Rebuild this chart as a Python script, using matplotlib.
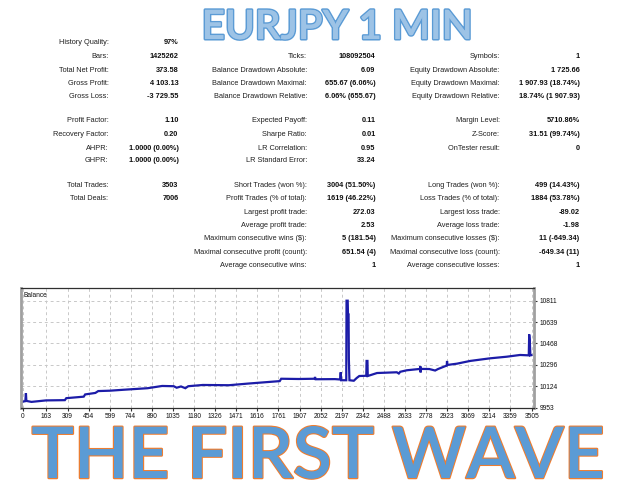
import matplotlib
matplotlib.use("Agg")
from matplotlib import pyplot as plt
from matplotlib import font_manager as fm
from matplotlib import patheffects as pe

# ---- report values ----
title_top = "EURJPY 1 MIN"
title_bottom = "THE FIRST WAVE"

col1_labels = ["History Quality:", "Bars:", "Total Net Profit:", "Gross Profit:", "Gross Loss:",
               "Profit Factor:", "Recovery Factor:", "AHPR:", "GHPR:",
               "Total Trades:", "Total Deals:"]
col1_values = ["97%", "1425262", "373.58", "4 103.13", "-3 729.55",
               "1.10", "0.20", "1.0000 (0.00%)", "1.0000 (0.00%)",
               "3503", "7006"]
col1_rows = [0, 1, 2, 3, 4, 5, 6, 7, 8, 9, 10]

col2_labels = ["Ticks:", "Balance Drawdown Absolute:", "Balance Drawdown Maximal:", "Balance Drawdown Relative:",
               "Expected Payoff:", "Sharpe Ratio:", "LR Correlation:", "LR Standard Error:",
               "Short Trades (won %):", "Profit Trades (% of total):", "Largest profit trade:",
               "Average profit trade:", "Maximum consecutive wins ($):",
               "Maximal consecutive profit (count):", "Average consecutive wins:"]
col2_values = ["108092504", "6.09", "655.67 (6.06%)", "6.06% (655.67)",
               "0.11", "0.01", "0.95", "33.24",
               "3004 (51.50%)", "1619 (46.22%)", "272.03",
               "2.53", "5 (181.54)",
               "651.54 (4)", "1"]
col2_rows = [1, 2, 3, 4, 5, 6, 7, 8, 9, 10, 11, 12, 13, 14, 15]

col3_labels = ["Symbols:", "Equity Drawdown Absolute:", "Equity Drawdown Maximal:", "Equity Drawdown Relative:",
               "Margin Level:", "Z-Score:", "OnTester result:",
               "Long Trades (won %):", "Loss Trades (% of total):", "Largest loss trade:",
               "Average loss trade:", "Maximum consecutive losses ($):",
               "Maximal consecutive loss (count):", "Average consecutive losses:"]
col3_values = ["1", "1 725.66", "1 907.93 (18.74%)", "18.74% (1 907.93)",
               "5710.86%", "31.51 (99.74%)", "0",
               "499 (14.43%)", "1884 (53.78%)", "-89.02",
               "-1.98", "11 (-649.34)",
               "-649.34 (11)", "1"]
col3_rows = [1, 2, 3, 4, 5, 6, 7, 9, 10, 11, 12, 13, 14, 15]

# balance curve (trade number, balance)
balance_trade = [0, 18, 22, 25, 60, 160, 290, 300, 420, 430, 500, 520, 600, 700, 860,
                 960, 1040, 1060, 1090, 1120, 1140, 1240, 1420, 1550, 1715, 1770, 1780,
                 1900, 2010, 2013, 2017, 2150, 2186, 2190, 2193, 2228, 2230, 2238, 2240,
                 2244, 2246, 2250, 2280, 2300, 2318, 2366, 2368, 2374, 2376, 2440, 2576,
                 2590, 2600, 2645, 2736, 2738, 2740, 2742, 2800, 2840, 2860, 2920, 2922,
                 2925, 2990, 3081, 3218, 3333, 3425, 3485, 3488, 3492, 3496, 3503]
balance_value = [10000, 10004, 10068, 10006, 9998, 10010, 10012, 10028, 10040, 10058,
                 10070, 10085, 10088, 10096, 10108, 10126, 10124, 10112, 10122, 10108,
                 10124, 10134, 10132, 10145, 10160, 10165, 10184, 10182, 10184, 10198,
                 10180, 10181, 10178, 10236, 10172, 10172, 10811, 10811, 10700, 10700,
                 10340, 10172, 10168, 10190, 10206, 10208, 10327, 10327, 10206, 10230,
                 10236, 10226, 10240, 10252, 10263, 10285, 10235, 10263, 10262, 10250,
                 10262, 10290, 10327, 10295, 10305, 10327, 10348, 10361, 10375, 10372,
                 10540, 10487, 10372, 10373.58]

x_ticks = [0, 163, 309, 454, 599, 744, 890, 1035, 1180, 1326, 1471, 1616, 1761,
           1907, 2052, 2197, 2342, 2488, 2633, 2778, 2923, 3069, 3214, 3359, 3505]
y_ticks = [9953, 10124, 10296, 10468, 10639, 10811]


def have(name):
    try:
        fm.findfont(fm.FontProperties(family=name), fallback_to_default=False)
        return True
    except ValueError:
        return False


if have("Liberation Sans Narrow"):
    small_font, small_size = "Liberation Sans Narrow", 6.4
else:
    small_font, small_size = "Liberation Sans", 5.3
big_font = "Lato" if have("Lato") else "DejaVu Sans"

W, H = 640, 480
fig = plt.figure(figsize=(6.4, 4.8), dpi=100)
fig.patch.set_facecolor("white")


def fx(x):
    return x / W


def fy(y):
    return 1 - y / H


# ---- stats table ----
row_y = [42, 56, 70, 83.5, 97, 121, 134.5, 148, 161, 185.5, 199, 212.5, 225.5, 239, 252, 265.5]
columns = [(col1_labels, col1_values, col1_rows, 108.5, 178.5),
           (col2_labels, col2_values, col2_rows, 307, 375.5),
           (col3_labels, col3_values, col3_rows, 499.5, 579.5)]
for labels, values, rows, lab_x, val_x in columns:
    for lab, val, r in zip(labels, values, rows):
        fig.text(fx(lab_x), fy(row_y[r]), lab, ha="right", va="center",
                 family=small_font, fontsize=small_size, color="#202020")
        fig.text(fx(val_x), fy(row_y[r]), val, ha="right", va="center",
                 family=small_font, fontsize=small_size, fontweight="bold", color="#101010")

# ---- balance chart ----
ax = fig.add_axes([fx(20.7), fy(407.5), fx(534) - fx(20.7), fy(288) - fy(407.5)])
ax.plot(balance_trade, balance_value, color="#1c1ca8", lw=1.6, solid_joinstyle="miter")
ax.set_xlim(-14, 3521)
ax.set_ylim(9953, 10913)
ax.set_xticks(x_ticks)
ax.set_xticklabels([str(t) for t in x_ticks])
ax.set_yticks(y_ticks)
ax.set_yticklabels([str(t) for t in y_ticks])
ax.yaxis.tick_right()
ax.tick_params(axis="both", labelsize=small_size - 0.5, length=2.5, width=0.8,
               color="#303030", pad=1.5, labelcolor="#101010")
for lab in ax.get_xticklabels() + ax.get_yticklabels():
    lab.set_family(small_font)
ax.grid(True, color="#c8c8c8", lw=0.7, linestyle=(0, (3, 3)))
ax.set_axisbelow(True)
for side in ("left", "right"):
    ax.spines[side].set_color("#a0a0a0")
    ax.spines[side].set_linewidth(2)
for side in ("top", "bottom"):
    ax.spines[side].set_color("#303030")
    ax.spines[side].set_linewidth(0.9)
ax.text(0.006, 0.965, "Balance", transform=ax.transAxes, ha="left", va="top",
        family=small_font, fontsize=small_size - 0.5, color="#101010")

# ---- big headlines ----
renderer = fig.canvas.get_renderer()


def headline(text, x0, x1, baseline, fill, edge, stroke):
    t = fig.text(fx((x0 + x1) / 2), fy(baseline), text, ha="center", va="baseline",
                 family=big_font, fontweight="semibold", fontsize=40, color=fill)
    w = t.get_window_extent(renderer).width
    t.set_fontsize(40 * (x1 - x0) / w)
    t.set_path_effects([pe.withStroke(linewidth=stroke, foreground=edge), pe.Normal()])
    return t


headline(title_top, 202, 473, 39, "#9dc3e6", "#5b9bd5", 2.2)
headline(title_bottom, 32, 605, 478, "#5b9bd5", "#ed7d31", 1.8)

fig.savefig("out.png", dpi=100, facecolor="white")
